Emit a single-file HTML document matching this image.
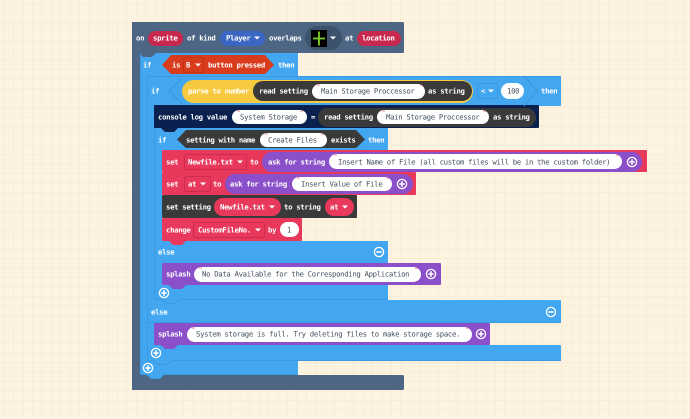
<!DOCTYPE html>
<html><head><meta charset="utf-8"><style>
html,body{margin:0;padding:0;background:#fdf3e1;width:690px;height:419px;overflow:hidden}
svg{display:block}
text{font-family:"DejaVu Sans Mono","Liberation Mono",monospace;font-size:7.3px;letter-spacing:-0.33px;text-rendering:geometricPrecision}
.t{fill:#fff;font-weight:bold}
.s{fill:#44505e}
.q{fill:#e0455a;font-size:5px;font-weight:bold}
.e{fill:none;stroke:#3a97dc;stroke-width:.8}
</style></head><body>
<svg width="690" height="419" viewBox="0 0 690 419" xmlns="http://www.w3.org/2000/svg">
<defs>
<pattern id="g" x="0.5" y="3" width="9.45" height="9.45" patternUnits="userSpaceOnUse">
<rect x="3" width="1" height="9.45" fill="#faecd7"/><rect y="0" width="9.45" height="1" fill="#faecd7"/>
</pattern>
<polygon id="n" points="0,0 4,4 13,4 17,0"/>
<polygon id="d" points="-3,-1.5 3,-1.5 0,1.5" fill="#fff"/>
<g id="p"><circle r="4.6" fill="none" stroke="#fff" stroke-width="1.3"/><path d="M-2.7 0H2.7M0 -2.7V2.7" stroke="#fff" stroke-width="1.6"/></g>
<g id="m"><circle r="4.6" fill="none" stroke="#fff" stroke-width="1.3"/><path d="M-2.7 0H2.7" stroke="#fff" stroke-width="1.6"/></g>
</defs>
<rect width="690" height="419" fill="#fdf3e1"/>
<rect width="690" height="419" fill="url(#g)"/>

<!-- outer event -->
<rect x="132" y="22" width="272" height="31" rx="1.5" fill="#4c6683"/>
<rect x="132" y="22" width="8" height="368" fill="#4c6683"/>
<rect x="132" y="375" width="272" height="15" rx="1.5" fill="#4c6683"/>

<!-- outer if -->
<rect x="140" y="53" width="158" height="23" fill="#42a6f0"/>
<rect x="140" y="53" width="8" height="322" fill="#42a6f0"/>
<rect x="140" y="361" width="158" height="14" fill="#42a6f0"/>
<use href="#n" x="147" y="375" fill="#42a6f0"/>
<use href="#n" x="139" y="53" fill="#4c6683"/>

<!-- middle if -->
<rect x="147" y="76" width="414" height="30" rx="1" fill="#42a6f0"/>
<rect x="147" y="76" width="8" height="285" fill="#42a6f0"/>
<rect x="147" y="300" width="414" height="23" rx="1" fill="#42a6f0"/>
<rect x="147" y="345" width="414" height="16" rx="1" fill="#42a6f0"/>
<use href="#n" x="154" y="361" fill="#42a6f0"/>
<polyline class="e" points="147.500,361 147.500,76.500 561,76.500"/>
<polyline class="e" points="147,360.500 154,360.500 158,364.500 167,364.500 171,360.500 561,360.500"/>

<!-- inner if -->
<rect x="154" y="128" width="234" height="22" fill="#42a6f0"/>
<rect x="154" y="128" width="8" height="172" fill="#42a6f0"/>
<rect x="154" y="241" width="234" height="22" fill="#42a6f0"/>
<rect x="154" y="285" width="234" height="15" fill="#42a6f0"/>
<polyline class="e" points="154.500,128 154.500,300"/>
<polyline class="e" points="155,299.500 162,299.500 166,303.500 175,303.500 179,299.500 388,299.500"/>
<polyline class="e" points="147,322.500 561,322.500"/>
<polyline class="e" points="140.500,375 140.500,53"/>
<polyline class="e" points="140,374.500 147,374.500 151,378.500 160,378.500 164,374.500 298,374.500"/>

<!-- console -->
<rect x="154" y="105" width="385" height="23" rx="1" fill="#0a2150"/>
<use href="#n" x="161" y="128" fill="#0a2150"/>

<!-- set 1..4 -->
<rect x="162" y="150" width="485" height="22" rx="1" fill="#e8385c"/>
<use href="#n" x="169" y="172" fill="#e8385c"/>
<rect x="162" y="172" width="254" height="23" rx="1" fill="#e8385c"/>
<use href="#n" x="169" y="195" fill="#e8385c"/>
<rect x="162" y="195" width="195" height="23" rx="1" fill="#3a3a3a"/>
<use href="#n" x="169" y="218" fill="#3a3a3a"/>
<rect x="162" y="218" width="140" height="23" rx="1" fill="#e8385c"/>
<use href="#n" x="169" y="241" fill="#e8385c"/>

<!-- splash 1,2 -->
<rect x="162" y="263" width="279" height="22" rx="1" fill="#8a4fc9"/>
<use href="#n" x="169" y="285" fill="#8a4fc9"/>
<rect x="154" y="323" width="336" height="22" rx="1" fill="#8a4fc9"/>
<use href="#n" x="161" y="345" fill="#8a4fc9"/>

<!-- row 1 -->
<text class="t" x="136" y="40.6">on</text>
<rect x="148" y="31" width="35" height="15" rx="7.5" fill="#c9284e"/>
<text class="t" x="153" y="40.6">sprite</text>
<text class="t" x="187" y="40.6">of kind</text>
<rect x="220" y="31" width="45" height="15" rx="7.5" fill="#3b66c4"/>
<text class="t" x="226" y="40.6">Player</text>
<use href="#d" x="257" y="38"/>
<text class="t" x="269" y="40.6">overlaps</text>
<rect x="305" y="26" width="37" height="24" rx="12" fill="#3d526c"/>
<rect x="311" y="30" width="16" height="17" fill="#000"/>
<path d="M319 31.5V45.5M313 38.5H325" stroke="#7ed321" stroke-width="1.8"/>
<use href="#d" x="333" y="38"/>
<text class="t" x="345" y="40.6">at</text>
<rect x="357" y="31" width="44" height="15" rx="7.5" fill="#c9284e"/>
<text class="t" x="362" y="40.6">location</text>

<!-- row 2 -->
<text class="t" x="143" y="67.6">if</text>
<polygon points="162,65 171,55 265,55 274,65 265,74 171,74" fill="#d83c1c"/>
<text class="t" x="172" y="67.6">is</text>
<rect x="183.500" y="57.500" width="20" height="15" rx="1.5" fill="#d83c1c" stroke="#c2330f"/>
<text class="t" x="186" y="67.6">B</text>
<use href="#d" x="198" y="65"/>
<text class="t" x="208" y="67.6">button pressed</text>
<text class="t" x="278" y="67.6">then</text>

<!-- row 3 -->
<text class="t" x="151" y="93.6">if</text>
<polyline points="182,78 169,91 182,104" fill="none" stroke="#3a97dc" stroke-width="1"/>
<rect x="182" y="80" width="291" height="23" rx="11.5" fill="#f7c93e"/>
<text class="t" x="188" y="93.6">parse to number</text>
<rect x="253" y="81" width="219" height="20" rx="10" fill="#3a3a3a"/>
<text class="t" x="259" y="93.6">read setting</text>
<rect x="312" y="84" width="113" height="15" rx="7.500" fill="#fff"/>
<text class="q" x="317" y="88">"</text>
<text class="s" x="321" y="93.6">Main Storage Proccessor</text>
<text class="q" x="420" y="88">"</text>
<text class="t" x="428" y="93.6">as string</text>
<rect x="477.500" y="83.500" width="20" height="15" rx="1.5" fill="#42a6f0" stroke="#3a97dc"/>
<text class="t" x="481" y="93.6">&lt;</text>
<use href="#d" x="491" y="91"/>
<rect x="501" y="83" width="23" height="16" rx="8" fill="#fff"/>
<text class="s" x="507" y="93.6">100</text>
<polyline points="524,76 537,91 524,106" fill="none" stroke="#3a97dc" stroke-width="1"/>
<text class="t" x="541" y="93.6">then</text>

<!-- row 4 -->
<text class="t" x="158" y="119.6">console log value</text>
<rect x="232" y="110" width="75" height="14" rx="7" fill="#fff"/>
<text class="q" x="237" y="114">"</text>
<text class="s" x="240" y="119.6">System Storage</text>
<text class="q" x="300" y="114">"</text>
<text class="t" x="311" y="119.6">=</text>
<rect x="318" y="108" width="218" height="19" rx="9.500" fill="#3a3a3a"/>
<text class="t" x="324" y="119.6">read setting</text>
<rect x="377" y="110" width="112" height="14" rx="7" fill="#fff"/>
<text class="q" x="382" y="114">"</text>
<text class="s" x="386" y="119.6">Main Storage Proccessor</text>
<text class="q" x="483" y="114">"</text>
<text class="t" x="493" y="119.6">as string</text>

<!-- row 5 -->
<text class="t" x="158" y="142.6">if</text>
<polygon points="177,139.500 186,130 356,130 365,139.500 356,148 186,148" fill="#3a3a3a"/>
<text class="t" x="186" y="142.6">setting with name</text>
<rect x="260" y="133" width="67" height="14" rx="7" fill="#fff"/>
<text class="q" x="265" y="137">"</text>
<text class="s" x="268" y="142.6">Create Files</text>
<text class="q" x="321" y="137">"</text>
<text class="t" x="331" y="142.6">exists</text>
<text class="t" x="368" y="142.6">then</text>

<!-- row 6 -->
<text class="t" x="166" y="164.6">set</text>
<rect x="184.500" y="154.500" width="62" height="15" rx="1.5" fill="#e8385c" stroke="#cf2b4e"/>
<text class="t" x="188" y="164.6">Newfile.txt</text>
<use href="#d" x="240" y="162"/>
<text class="t" x="250" y="164.6">to</text>
<rect x="262" y="152" width="380" height="20" rx="10" fill="#8a4fc9"/>
<text class="t" x="268" y="164.6">ask for string</text>
<rect x="329" y="154" width="293" height="15" rx="7.500" fill="#fff"/>
<text class="q" x="334" y="158">"</text>
<text class="s" x="338" y="164.6">Insert Name of File (all custom files will be in the custom folder)</text>
<text class="q" x="616" y="158">"</text>
<use href="#p" x="632" y="162"/>

<!-- row 7 -->
<text class="t" x="166" y="186.6">set</text>
<rect x="184.500" y="176.500" width="26" height="15" rx="1.5" fill="#e8385c" stroke="#cf2b4e"/>
<text class="t" x="188" y="186.6">at</text>
<use href="#d" x="203" y="184"/>
<text class="t" x="213" y="186.6">to</text>
<rect x="225" y="174" width="188" height="20" rx="10" fill="#8a4fc9"/>
<text class="t" x="230" y="186.6">ask for string</text>
<rect x="292" y="177" width="100" height="14" rx="7" fill="#fff"/>
<text class="q" x="297" y="181">"</text>
<text class="s" x="301" y="186.6">Insert Value of File</text>
<text class="q" x="386" y="181">"</text>
<use href="#p" x="402" y="184"/>

<!-- row 8 -->
<text class="t" x="166" y="209.6">set setting</text>
<rect x="214" y="198" width="67" height="18" rx="9" fill="#e8385c"/>
<text class="t" x="220" y="209.6">Newfile.txt</text>
<use href="#d" x="272" y="207"/>
<text class="t" x="284" y="209.6">to string</text>
<rect x="325" y="198" width="29" height="18" rx="9" fill="#e8385c"/>
<text class="t" x="330" y="209.6">at</text>
<use href="#d" x="345" y="207"/>

<!-- row 9 -->
<text class="t" x="166" y="232.6">change</text>
<rect x="193.500" y="222.500" width="71" height="15" rx="1.5" fill="#e8385c" stroke="#cf2b4e"/>
<text class="t" x="198" y="232.6">CustomFileNo.</text>
<use href="#d" x="258" y="230"/>
<text class="t" x="268" y="232.6">by</text>
<rect x="280" y="222" width="19" height="15" rx="7.500" fill="#fff"/>
<text class="s" x="287" y="232.6">1</text>

<!-- else inner -->
<text class="t" x="158" y="254.6">else</text>
<use href="#m" x="379" y="252"/>
<text class="t" x="166" y="276.6">splash</text>
<rect x="194" y="267" width="227" height="15" rx="7.500" fill="#fff"/>
<text class="q" x="199" y="271">"</text>
<text class="s" x="202" y="276.6">No Data Available for the Corresponding Application</text>
<text class="q" x="415" y="271">"</text>
<use href="#p" x="431" y="274"/>
<use href="#p" x="164" y="293"/>

<!-- else outer -->
<text class="t" x="151" y="314.6">else</text>
<use href="#m" x="551" y="312"/>
<text class="t" x="158" y="336.6">splash</text>
<rect x="187" y="327" width="285" height="15" rx="7.500" fill="#fff"/>
<text class="q" x="192" y="331">"</text>
<text class="s" x="196" y="336.6">System storage is full. Try deleting files to make storage space.</text>
<text class="q" x="466" y="331">"</text>
<use href="#p" x="481" y="334"/>
<use href="#p" x="156" y="353"/>
<use href="#p" x="148" y="368"/>
</svg>
</body></html>
